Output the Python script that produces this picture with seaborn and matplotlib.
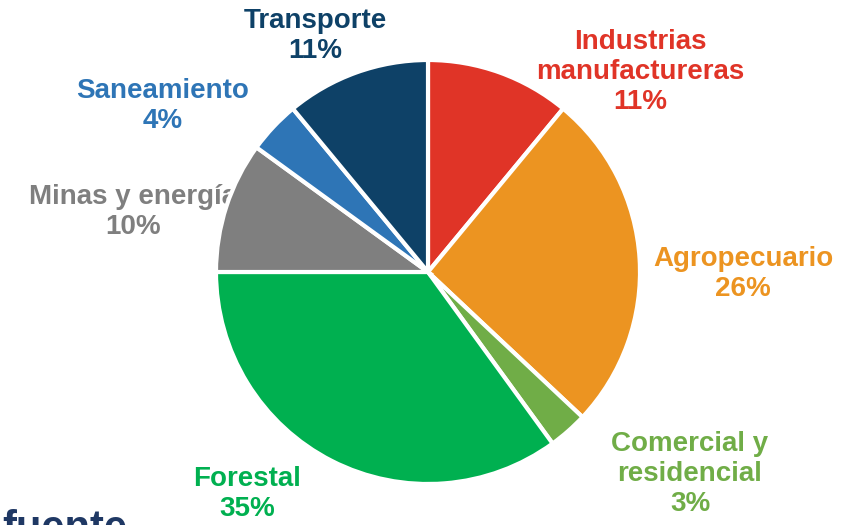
import matplotlib
matplotlib.use("Agg")
import matplotlib.pyplot as plt
import seaborn as sns

sectors = ["Industrias\nmanufactureras", "Agropecuario", "Comercial y\nresidencial",
           "Forestal", "Minas y energía", "Saneamiento", "Transporte"]
shares = [11, 26, 3, 35, 10, 4, 11]
colors = ["#E03427", "#EC9421", "#70AD47", "#00B050", "#7F7F7F", "#2E75B6", "#0E4167"]

# label anchor (x, y) in pixel coords from top-left
label_pos = [(640, 72), (743, 274), (690, 474), (247, 494), (133, 212), (163, 106), (315, 36)]

if __name__ == "__main__":
    sns.set_theme(style="white")
    plt.rcParams["font.family"] = ["Liberation Sans", "DejaVu Sans"]

    W, H = 856, 525
    fig = plt.figure(figsize=(W / 100, H / 100), dpi=100)
    ax = fig.add_axes([0, 0, 1, 1])

    ax.pie(
        shares,
        colors=colors,
        startangle=90,
        counterclock=False,
        center=(428, H - 272),
        radius=212,
        frame=True,
        wedgeprops=dict(edgecolor="white", linewidth=3, zorder=3),
    )
    ax.set_xlim(0, W)
    ax.set_ylim(0, H)
    ax.set_aspect("equal")
    ax.axis("off")

    for name, val, col, (x, y) in zip(sectors, shares, colors, label_pos):
        ax.text(x, H - y, f"{name}\n{val}%", color=col, fontsize=20, fontweight="bold",
                ha="center", va="center", linespacing=1.22, zorder=1)

    # source caption, cut by the bottom edge as in the original
    ax.text(2, H - 509, "fuente", color="#1F3864", fontsize=30, fontweight="bold",
            ha="left", va="top", zorder=1)

    fig.savefig("out.png", dpi=100)
